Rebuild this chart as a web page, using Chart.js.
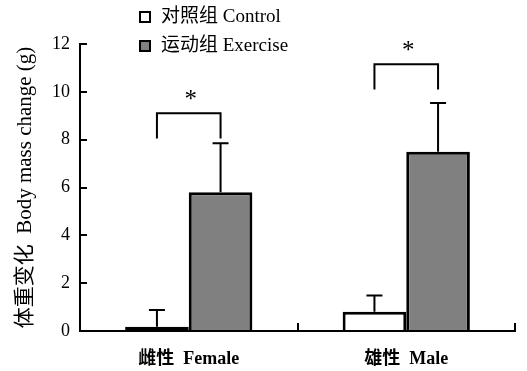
<!DOCTYPE html>
<html>
<head>
<meta charset="utf-8">
<script src="https://cdn.jsdelivr.net/npm/chart.js@4/dist/chart.umd.min.js"></script>
<style>
  body { margin: 0; background: #fff; }
  #wrap { width: 527px; height: 371px; position: relative; }
</style>
</head>
<body>
<div id="wrap"><canvas id="grafica"></canvas></div>
<script>
// datos
var categorias = ["雌性  Female", "雄性  Male"];
var etiquetas = ["对照组 Control", "运动组 Exercise"];
var controlMedias = [0.18, 0.8];
var controlErrores = [0.7, 0.68];
var ejercicioMedias = [5.8, 7.5];
var ejercicioErrores = [2.05, 2.03];
var marcaSignif = ["*", "*"];
var alturaCorchete = [9.1, 11.15];
var yTicks = [0, 2, 4, 6, 8, 10, 12];

var fuente = "'Liberation Serif', 'Noto Sans CJK SC', serif";

// barras de error (solo hacia arriba)
var pluginErrores = {
  id: 'errores',
  afterDatasetsDraw: function(chart) {
    var ctx = chart.ctx;
    var y = chart.scales.y;
    ctx.save();
    ctx.strokeStyle = "#000";
    ctx.lineWidth = 2;
    chart.data.datasets.forEach(function(ds, i) {
      var meta = chart.getDatasetMeta(i);
      meta.data.forEach(function(bar, j) {
        var yTop = y.getPixelForValue(ds.data[j] + ds.errores[j]);
        ctx.beginPath();
        ctx.moveTo(bar.x, bar.y);
        ctx.lineTo(bar.x, yTop);
        ctx.moveTo(bar.x - 8, yTop);
        ctx.lineTo(bar.x + 8, yTop);
        ctx.stroke();
      });
    });
    ctx.restore();
  }
};

// corchetes con asterisco
var pluginSignif = {
  id: 'signif',
  afterDatasetsDraw: function(chart) {
    var ctx = chart.ctx;
    var y = chart.scales.y;
    var m0 = chart.getDatasetMeta(0);
    var m1 = chart.getDatasetMeta(1);
    ctx.save();
    ctx.strokeStyle = "#000";
    ctx.lineWidth = 2;
    ctx.fillStyle = "#000";
    ctx.font = "25px " + fuente;
    ctx.textAlign = "center";
    ctx.textBaseline = "alphabetic";
    for (var j = 0; j < categorias.length; j++) {
      var x1 = m0.data[j].x;
      var x2 = m1.data[j].x;
      var yTop = y.getPixelForValue(alturaCorchete[j]);
      var yPie = y.getPixelForValue(alturaCorchete[j] - 1.05);
      ctx.beginPath();
      ctx.moveTo(x1, yPie);
      ctx.lineTo(x1, yTop);
      ctx.lineTo(x2, yTop);
      ctx.lineTo(x2, yPie);
      ctx.stroke();
      ctx.fillText(marcaSignif[j], (x1 + x2) / 2 + 2, yTop - 6);
    }
    ctx.restore();
  }
};

// leyenda vertical arriba
var pluginLeyenda = {
  id: 'leyenda',
  afterDraw: function(chart) {
    var ctx = chart.ctx;
    ctx.save();
    ctx.font = "19px " + fuente;
    ctx.textBaseline = "middle";
    ctx.textAlign = "left";
    chart.data.datasets.forEach(function(ds, i) {
      var cy = 17 + i * 29;
      ctx.fillStyle = ds.backgroundColor;
      ctx.fillRect(140, cy - 5, 10, 10);
      ctx.strokeStyle = "#000";
      ctx.lineWidth = 2;
      ctx.strokeRect(140, cy - 5, 10, 10);
      ctx.fillStyle = "#000";
      ctx.fillText(ds.label, 161, cy);
    });
    ctx.restore();
  }
};

// barras muy bajas: contorno completo para que se vean negras
function bordeOmitido(c) {
  return c.raw < 0.5 ? false : 'start';
}

new Chart("grafica", {
  type: "bar",
  data: {
    labels: categorias,
    datasets: [{
      label: etiquetas[0],
      data: controlMedias,
      errores: controlErrores,
      backgroundColor: "#ffffff",
      borderColor: "#000000",
      borderWidth: 3,
      borderSkipped: bordeOmitido
    }, {
      label: etiquetas[1],
      data: ejercicioMedias,
      errores: ejercicioErrores,
      backgroundColor: "#808080",
      borderColor: "#000000",
      borderWidth: 3,
      borderSkipped: bordeOmitido
    }]
  },
  options: {
    responsive: true,
    maintainAspectRatio: false,
    animation: false,
    layout: { padding: { top: 44, right: 12, left: 0, bottom: 0 } },
    categoryPercentage: 0.585,
    barPercentage: 1.0,
    plugins: {
      legend: { display: false },
      tooltip: { enabled: false }
    },
    scales: {
      x: {
        offset: true,
        grid: {
          offset: true,
          drawOnChartArea: false,
          tickLength: -8,
          color: "#000",
          lineWidth: 2
        },
        border: { color: "#000", width: 2 },
        ticks: {
          color: "#000",
          padding: 26,
          font: { family: fuente, size: 18, weight: "bold" }
        },
        afterFit: function(scale) { scale.height = 40; }
      },
      y: {
        min: 0,
        max: 12,
        afterBuildTicks: function(scale) {
          scale.ticks = yTicks.map(function(v) { return { value: v }; });
        },
        grid: {
          drawOnChartArea: false,
          tickLength: -7,
          color: "#000",
          lineWidth: 2
        },
        border: { color: "#000", width: 2 },
        ticks: {
          color: "#000",
          padding: 17,
          font: { family: fuente, size: 18 }
        },
        title: {
          display: true,
          text: "体重变化  Body mass change (g)",
          color: "#000",
          padding: { top: 13, bottom: 0 },
          font: { family: fuente, size: 21 }
        },
        afterFit: function(scale) { scale.width = 80; }
      }
    }
  },
  plugins: [pluginErrores, pluginSignif, pluginLeyenda]
});
</script>
</body>
</html>
